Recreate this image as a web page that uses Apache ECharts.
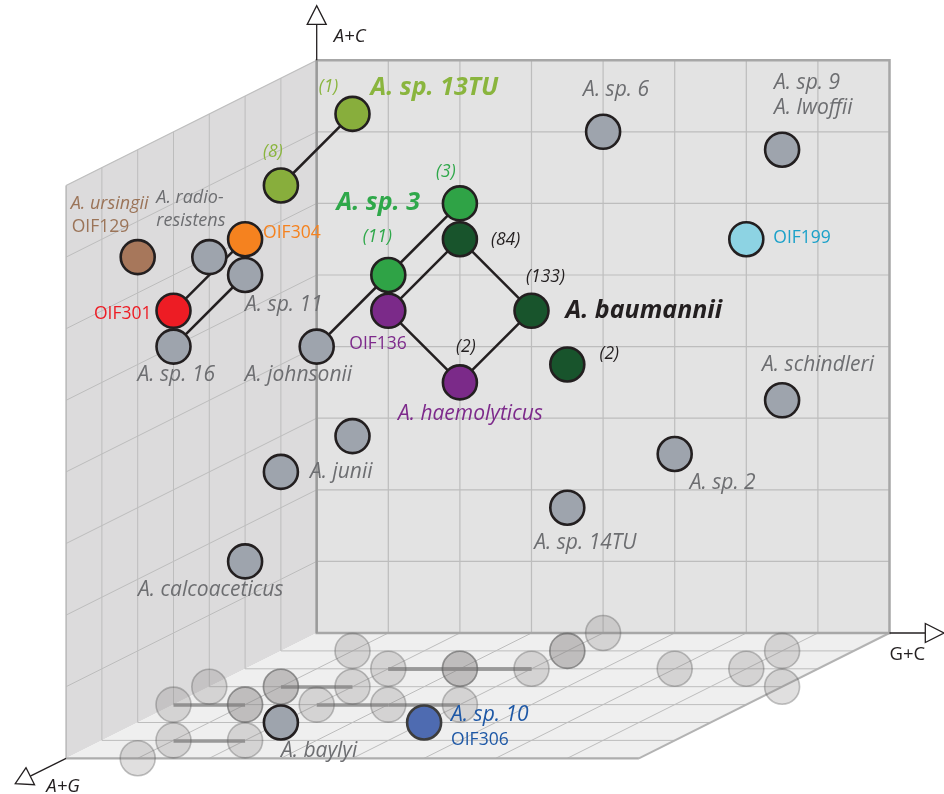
<!DOCTYPE html>
<html><head><meta charset="utf-8">
<script src="https://cdn.jsdelivr.net/npm/echarts@6/dist/echarts.min.js"></script>
<style>html,body{margin:0;padding:0;background:#fff}#c{width:944px;height:794px}</style>
</head><body><div id="c"></div>
<script>
// ---------- axis ticks (grid divisions of the three axes) ----------
const gcTicks = [0, 1, 2, 3, 4, 5, 6, 7, 8];   // G+C
const acTicks = [0, 1, 2, 3, 4, 5, 6, 7, 8];   // A+C
const agTicks = [0, 1, 2, 3, 4, 5, 6, 7];      // A+G
const axisNames = ['A+C', 'G+C', 'A+G'];

// ---------- points (3D grid coordinates) ----------
const pointNames = [
  'A. sp. 13TU (1)', 'A. sp. 13TU (8)', 'A. ursingii OIF129', 'A. radioresistens',
  'A. radioresistens OIF304', 'A. sp. 11', 'A. radioresistens OIF301', 'A. sp. 16',
  'A. johnsonii', 'A. sp. 3 (11)', 'A. sp. 3 (3)', 'A. haemolyticus OIF136',
  'A. baumannii (84)', 'A. baumannii (133)', 'A. haemolyticus (2)', 'A. baumannii (2)',
  'A. sp. 6', 'A. sp. 9 / A. lwoffii', 'OIF199', 'A. schindleri',
  'A. sp. 2', 'A. sp. 14TU', 'A. junii (a)', 'A. junii', 'A. calcoaceticus',
  'A. baylyi', 'A. sp. 10 OIF306'
];
const pointGC = [2, 1, 1, 0, 2, 1, 1, 0, 2, 3, 4, 2, 3, 4, 3, 4, 4, 7, 7, 8, 6, 4, 1, 1, 1, 2, 4];
const pointAC = [8, 7, 7, 6, 7, 6, 6, 5, 5, 6, 7, 5, 6, 5, 4, 4, 7, 7, 6, 4, 3, 2, 3, 3, 2, 0, 0];
const pointAG = [3, 3, 7, 3, 6, 4, 6, 4, 4, 4, 4, 2, 2, 2, 2, 1, 0, 1, 2, 3, 2, 1, 1, 3, 4, 5, 5];
const pointGroup = ['sp13', 'sp13', 'ursingii', 'other', 'oif304', 'other', 'oif301', 'other',
  'other', 'sp3', 'sp3', 'haemo', 'baum', 'baum', 'haemo', 'baum',
  'other', 'other', 'oif199', 'other', 'other', 'other', 'other', 'other', 'other',
  'other', 'sp10'];

// ---------- links between points (indices) ----------
const linkFrom = [0, 4, 5, 10, 9, 12, 11, 14, 13];
const linkTo   = [1, 6, 7, 9, 8, 11, 14, 13, 12];

// ---------- labels ----------
const labelTexts = [
  '(1)', 'A. sp. 13TU', '(8)', 'A. ursingii', 'OIF129', 'A. radio-', 'resistens',
  'OIF304', 'A. sp. 11', 'OIF301', 'A. sp. 16', 'A. johnsonii', '(11)', 'A. sp. 3',
  '(3)', 'OIF136', '(84)', '(133)', 'A. baumannii', '(2)', 'A. haemolyticus', '(2)',
  'A. sp. 6', 'A. sp. 9', 'A. lwoffii', 'OIF199', 'A. schindleri', 'A. sp. 2',
  'A. sp. 14TU', 'A. junii', 'A. calcoaceticus', 'A. baylyi', 'A. sp. 10', 'OIF306'
];
const labelAnchor = [0, 0, 1, 2, 2, 3, 3, 4, 5, 6, 7, 8, 9, 10, 10, 11, 12, 13, 13, 14, 14, 15,
  16, 17, 17, 18, 19, 20, 21, 23, 24, 25, 26, 26];
const labelKind = ['count', 'title', 'count', 'nameSmall', 'strain', 'nameSmall', 'nameSmall', 'strain', 'name',
  'strain', 'name', 'name', 'count', 'title', 'count', 'strain', 'count', 'count', 'title', 'count',
  'name', 'count', 'name', 'name', 'name', 'strain', 'name', 'name', 'name', 'name', 'name', 'name',
  'name', 'strain'];
const labelColorKey = ['sp13', 'sp13', 'sp13', 'ursingii', 'ursingii', 'other', 'other', 'oif304',
  'other', 'oif301', 'other', 'other', 'sp3', 'sp3', 'sp3', 'haemo', 'black', 'black', 'black',
  'black', 'haemo', 'black', 'other', 'other', 'other', 'oif199', 'other', 'other', 'other',
  'other', 'other', 'other', 'sp10', 'sp10'];

// ---------- styling / layout (not data) ----------
const DEPTH_X = 0.5, DEPTH_Y = 0.25;       // oblique projection of the A+G axis
const CELL = 71.6, ORIGIN_X = 316.7, ORIGIN_Y = 633;
const W = 944, H = 794;
const FONT = '"Open Sans", "Noto Sans", sans-serif';
const FILL = {
  sp13: '#88ae3c', ursingii: '#a7775b', other: '#9ea4ad', oif304: '#f5821f', oif301: '#ed1c24',
  sp3: '#2fa346', haemo: '#7b2a89', baum: '#18542c', oif199: '#8dd3e3', sp10: '#4e6bb1'
};
const TEXT = {
  sp13: '#8ab53e', ursingii: '#9b7458', other: '#6d6e71', oif304: '#f5821f', oif301: '#ed1c24',
  sp3: '#2fa84a', haemo: '#7d2a8b', black: '#231f20', oif199: '#1ba1c9', sp10: '#1e58a6'
};
const KIND = {
  name:      { fontSize: 21, fontStyle: 'italic', fontWeight: 'normal' },
  nameSmall: { fontSize: 18, fontStyle: 'italic', fontWeight: 'normal' },
  strain:    { fontSize: 17.5, fontStyle: 'normal', fontWeight: 'normal' },
  count:     { fontSize: 17.5, fontStyle: 'italic', fontWeight: 'normal' },
  title:     { fontSize: 25, fontStyle: 'italic', fontWeight: 'bold' }
};
// [dx, dy, align] relative to the anchor point centre, in px
const LABEL_LAYOUT = [
  [-24, -27, 'center'], [18, -26, 'left'], [-8, -33, 'center'], [-67, -53, 'left'], [-66, -30, 'left'],
  [-53, -59, 'left'], [-53, -36, 'left'], [18, -6, 'left'], [0, 30, 'left'], [-22, 3, 'right'],
  [-36, 28, 'left'], [-72, 28, 'left'], [-11, -38, 'center'], [-40, -1, 'right'], [-14, -31, 'center'],
  [-39, 33, 'left'], [31, 1, 'left'], [14, -34, 'center'], [34, 0, 'left'], [6, -35, 'center'],
  [-62, 32, 'left'], [42, -10, 'center'], [13, -42, 'center'], [-8, -67, 'left'], [-8, -42, 'left'],
  [27, -1, 'left'], [-20, -35, 'left'], [15, 29, 'left'], [-33, 35, 'left'], [29, 0, 'left'],
  [-107, 29, 'left'], [0, 29, 'left'], [27, -7, 'left'], [27, 18, 'left']
];

const GC_MAX = gcTicks[gcTicks.length - 1], AC_MAX = acTicks[acTicks.length - 1], AG_MAX = agTicks[agTicks.length - 1];
function proj(gc, ac, ag) { return [gc - DEPTH_X * ag, ac - DEPTH_Y * ag]; }

const pointXY = pointNames.map((n, i) => proj(pointGC[i], pointAC[i], pointAG[i]));
const shadowIdx = pointNames.map((n, i) => i).filter(i => pointAC[i] > 0);

const chart = echarts.init(document.getElementById('c'), null, { renderer: 'canvas' });

function renderFrame(params, api) {
  const P = (g, a, d) => api.coord(proj(g, a, d));
  const ch = [];
  const poly = (pts, fill) => ch.push({ type: 'polygon', shape: { points: pts }, style: { fill: fill, stroke: 'none' } });
  const seg = (a, b, stroke, w) => ch.push({ type: 'line', shape: { x1: a[0], y1: a[1], x2: b[0], y2: b[1] }, style: { stroke: stroke, lineWidth: w } });
  poly([P(0, 0, 0), P(GC_MAX, 0, 0), P(GC_MAX, AC_MAX, 0), P(0, AC_MAX, 0)], '#e3e3e3');
  poly([P(0, 0, 0), P(0, AC_MAX, 0), P(0, AC_MAX, AG_MAX), P(0, 0, AG_MAX)], '#dcdbdc');
  poly([P(0, 0, 0), P(GC_MAX, 0, 0), P(GC_MAX, 0, AG_MAX), P(0, 0, AG_MAX)], '#efefef');
  const GRID = '#bdbdbd';
  gcTicks.forEach(g => { if (g > 0 && g < GC_MAX) { seg(P(g, 0, 0), P(g, AC_MAX, 0), GRID, 1.2); seg(P(g, 0, 0), P(g, 0, AG_MAX), GRID, 1); } });
  acTicks.forEach(a => { if (a > 0 && a < AC_MAX) { seg(P(0, a, 0), P(GC_MAX, a, 0), GRID, 1.2); seg(P(0, a, 0), P(0, a, AG_MAX), GRID, 1); } });
  agTicks.forEach(d => { if (d > 0 && d < AG_MAX) { seg(P(0, 0, d), P(0, AC_MAX, d), GRID, 1); seg(P(0, 0, d), P(GC_MAX, 0, d), GRID, 1); } });
  seg(P(0, AC_MAX, 0), P(0, AC_MAX, AG_MAX), '#bdbdbd', 1.2);
  seg(P(0, AC_MAX, AG_MAX), P(0, 0, AG_MAX), '#b8b8b8', 1.5);
  seg(P(0, 0, AG_MAX), P(GC_MAX, 0, AG_MAX), '#adadad', 2.2);
  seg(P(GC_MAX, 0, 0), P(GC_MAX, 0, AG_MAX), '#b3b3b3', 2);
  ch.push({ type: 'polygon', shape: { points: [P(0, 0, 0), P(GC_MAX, 0, 0), P(GC_MAX, AC_MAX, 0), P(0, AC_MAX, 0)] }, style: { fill: 'none', stroke: '#a7a7a7', lineWidth: 2.5 } });
  seg(P(0, 0, 0), P(0, AC_MAX, 0), '#9a9a9a', 2);
  return { type: 'group', children: ch };
}

function arrow(ch, base, tip, from) {
  ch.push({ type: 'line', shape: { x1: from[0], y1: from[1], x2: base[0], y2: base[1] }, style: { stroke: '#231f20', lineWidth: 1.3 } });
  const dx = tip[0] - base[0], dy = tip[1] - base[1], L = Math.hypot(dx, dy);
  const nx = -dy / L * 9.5, ny = dx / L * 9.5;
  ch.push({ type: 'polygon', shape: { points: [[base[0] + nx, base[1] + ny], tip, [base[0] - nx, base[1] - ny]] }, style: { fill: '#fff', stroke: '#231f20', lineWidth: 1.3 } });
}
function renderAxes(params, api) {
  const P = (g, a, d) => api.coord(proj(g, a, d));
  const ch = [];
  arrow(ch, P(0, AC_MAX + 0.5, 0), P(0, AC_MAX + 0.76, 0), P(0, AC_MAX, 0));
  arrow(ch, P(GC_MAX + 0.5, 0, 0), P(GC_MAX + 0.76, 0, 0), P(GC_MAX, 0, 0));
  arrow(ch, P(0, 0, AG_MAX + 1.0), P(0, 0, AG_MAX + 1.42), P(0, 0, AG_MAX));
  const t = (p, dx, dy, txt, italic) => ch.push({ type: 'text', x: p[0] + dx, y: p[1] + dy, style: { text: txt, fill: '#231f20', fontSize: 18.5, fontFamily: FONT, fontStyle: italic ? 'italic' : 'normal', align: 'left', verticalAlign: 'middle' } });
  t(P(0, AC_MAX + 0.5, 0), 17, 12, axisNames[0], true);
  t(P(GC_MAX, 0, 0), 0, 22, axisNames[1], false);
  t(P(0, 0, AG_MAX + 1.42), 31, 3, axisNames[2], true);
  return { type: 'group', children: ch };
}

function renderLabel(params, api) {
  const i = params.dataIndex;
  const a = labelAnchor[i];
  const c = api.coord(pointXY[a]);
  const L = LABEL_LAYOUT[i], k = KIND[labelKind[i]];
  return {
    type: 'text', x: c[0] + L[0], y: c[1] + L[1], z2: 100,
    style: {
      text: labelTexts[i], fill: TEXT[labelColorKey[i]], fontSize: k.fontSize, fontStyle: k.fontStyle,
      fontWeight: k.fontWeight, fontFamily: FONT, align: L[2], verticalAlign: 'middle'
    }
  };
}

const option = {
  animation: false,
  backgroundColor: '#ffffff',
  grid: { left: 0, top: 0, width: W, height: H, containLabel: false },
  xAxis: { type: 'value', min: -ORIGIN_X / CELL, max: (W - ORIGIN_X) / CELL, show: false, splitLine: { show: false } },
  yAxis: { type: 'value', min: (ORIGIN_Y - H) / CELL, max: ORIGIN_Y / CELL, show: false, splitLine: { show: false } },
  series: [
    { type: 'custom', name: 'frame', silent: true, z: 1, renderItem: renderFrame, data: [[0, 0]] },
    { type: 'custom', name: 'axes', silent: true, z: 2, renderItem: renderAxes, data: [[0, 0]] },
    {
      type: 'lines', name: 'floor links', coordinateSystem: 'cartesian2d', silent: true, z: 3,
      lineStyle: { color: '#999999', width: 3.5, opacity: 1 },
      data: linkFrom.map((f, k) => ({ coords: [proj(pointGC[f], 0, pointAG[f]), proj(pointGC[linkTo[k]], 0, pointAG[linkTo[k]])] }))
    },
    {
      type: 'scatter', name: 'floor projections', silent: true, z: 3, symbolSize: 35,
      itemStyle: { color: 'rgba(128,124,124,0.3)', borderColor: 'rgba(90,88,88,0.45)', borderWidth: 1.6 },
      data: shadowIdx.map(i => proj(pointGC[i], 0, pointAG[i]))
    },
    {
      type: 'lines', name: 'links', coordinateSystem: 'cartesian2d', silent: true, z: 4,
      lineStyle: { color: '#231f20', width: 2.5, opacity: 1 },
      data: linkFrom.map((f, k) => ({ coords: [pointXY[f], pointXY[linkTo[k]]] }))
    },
    {
      type: 'scatter', name: 'species', silent: true, z: 5, symbolSize: 34,
      data: pointNames.map((n, i) => ({
        name: n, value: pointXY[i],
        itemStyle: { color: FILL[pointGroup[i]], borderColor: pointGroup[i] === 'sp10' ? '#3d3d3d' : '#231f20', borderWidth: 2.6, opacity: 1 }
      }))
    },
    { type: 'custom', name: 'labels', silent: true, z: 6, renderItem: renderLabel, data: labelTexts.map((t, i) => [i, 0]) }
  ]
};
chart.setOption(option);
</script></body></html>
